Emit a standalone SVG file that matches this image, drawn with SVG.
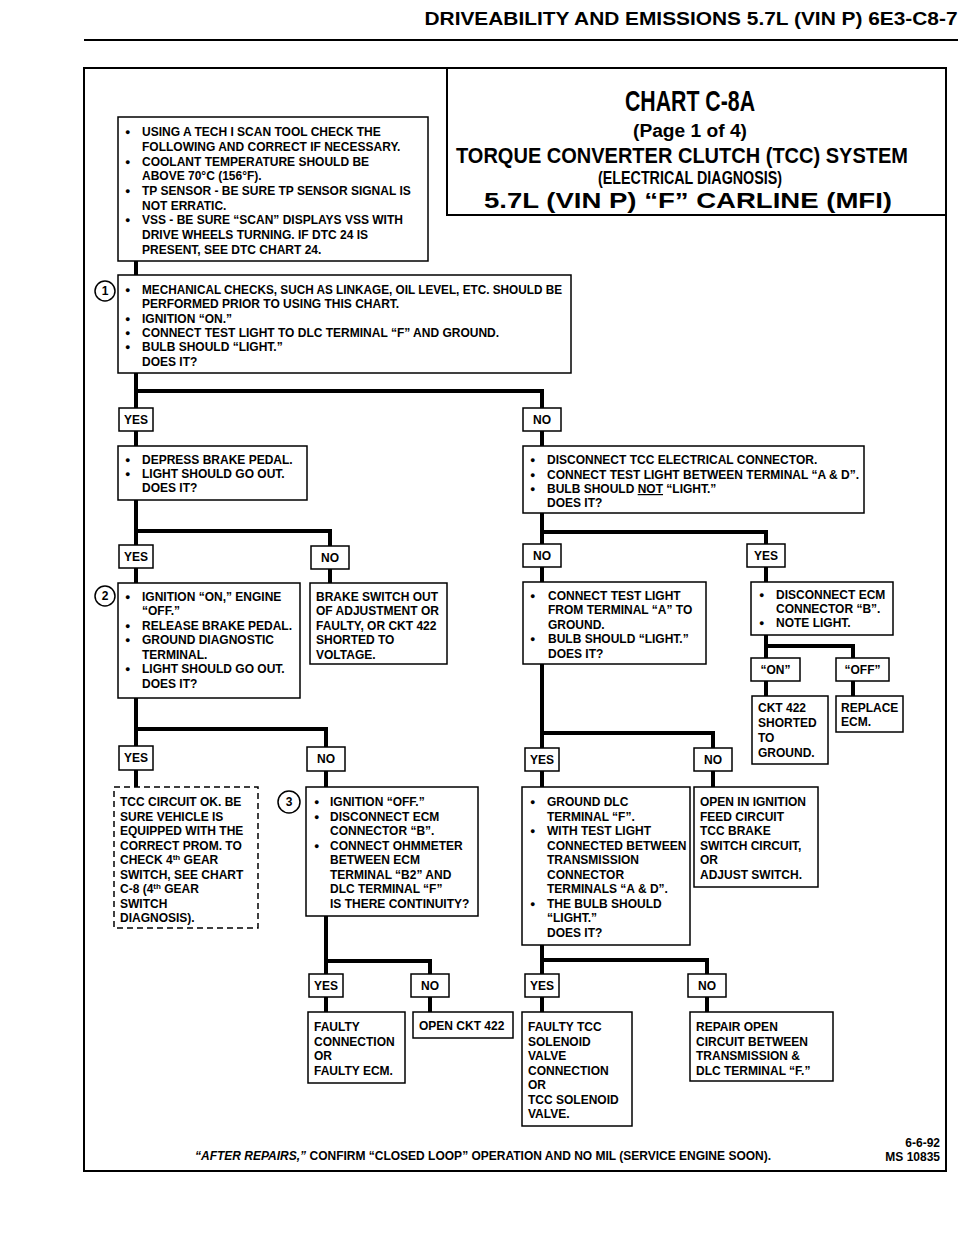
<svg xmlns="http://www.w3.org/2000/svg" width="960" height="1250" viewBox="0 0 960 1250">
<style>
.bg{fill:#fff}
.box{fill:#fff;stroke:#000;stroke-width:1.5}
.dash{fill:#fff;stroke:#000;stroke-width:1.5;stroke-dasharray:6 4}
.con{fill:none;stroke:#000;stroke-width:4}
.frame{fill:none;stroke:#000;stroke-width:2}
.circ{fill:#fff;stroke:#000;stroke-width:1.5}
.t{font-family:"Liberation Sans",Arial,sans-serif;font-weight:bold;font-size:12px;fill:#000}
.b{font-size:9px}
.c{text-anchor:middle}
.ttl{font-family:"Liberation Sans",Arial,sans-serif;font-weight:bold;fill:#000;text-anchor:middle}
</style>
<rect class="bg" x="0" y="0" width="960" height="1250"/>
<g id="header">
<text class="ttl" x="691" y="25" font-size="19" textLength="533" lengthAdjust="spacingAndGlyphs">DRIVEABILITY AND EMISSIONS 5.7L (VIN P) 6E3-C8-7</text>
<line x1="84" y1="40" x2="958" y2="40" stroke="#000" stroke-width="2"/>
</g>
<g id="frame">
<path class="frame" d="M84,68 H946 V1171 H84 Z"/>
</g>
<g id="title">
<path class="frame" d="M447,68 V215 H946" stroke-width="1.5"/>
<text class="ttl" x="690" y="111" font-size="30" textLength="130" lengthAdjust="spacingAndGlyphs">CHART C-8A</text>
<text class="ttl" x="690" y="137" font-size="18" textLength="114" lengthAdjust="spacingAndGlyphs">(Page 1 of 4)</text>
<text class="ttl" x="682" y="163" font-size="22" textLength="452" lengthAdjust="spacingAndGlyphs">TORQUE CONVERTER CLUTCH (TCC) SYSTEM</text>
<text class="ttl" x="690" y="184" font-size="18" textLength="184" lengthAdjust="spacingAndGlyphs">(ELECTRICAL DIAGNOSIS)</text>
<text class="ttl" x="688" y="208" font-size="22" textLength="408" lengthAdjust="spacingAndGlyphs">5.7L  (VIN P)  “F”  CARLINE  (MFI)</text>
</g>
<g id="connectors">
<path class="con" d="M136,261 V275"/>
<path class="con" d="M136,373 V408 M136,391 H542 V408"/>
<path class="con" d="M136,431 V446 M542,431 V446"/>
<path class="con" d="M136,500 V545 M136,531 H330 V546"/>
<path class="con" d="M136,568 V583 M330,569 V583"/>
<path class="con" d="M542,513 V544 M542,532 H766 V544"/>
<path class="con" d="M542,567 V582 M766,567 V582"/>
<path class="con" d="M766,635 V658 M766,646 H853 V658"/>
<path class="con" d="M766,681 V696 M853,681 V696"/>
<path class="con" d="M542,664 V748 M542,733 H713 V748"/>
<path class="con" d="M542,771 V787 M713,771 V787"/>
<path class="con" d="M136,698 V746 M136,729 H326 V747"/>
<path class="con" d="M136,770 V787 M326,771 V787"/>
<path class="con" d="M326,916 V974 M326,961 H430 V974"/>
<path class="con" d="M326,997 V1012 M430,997 V1012"/>
<path class="con" d="M542,945 V974 M542,960 H707 V974"/>
<path class="con" d="M542,997 V1012 M707,997 V1012"/>
</g>
<g id="prelim">
<rect class="box" x="118" y="117" width="310" height="144"/>
<text class="t" x="125" y="136"><tspan class="b" dy="-1">●</tspan><tspan x="142" dy="1">USING A TECH I SCAN TOOL CHECK THE</tspan></text>
<text class="t" x="142" y="151">FOLLOWING AND CORRECT IF NECESSARY.</text>
<text class="t" x="125" y="166"><tspan class="b" dy="-1">●</tspan><tspan x="142" dy="1">COOLANT TEMPERATURE SHOULD BE</tspan></text>
<text class="t" x="142" y="180">ABOVE 70°C (156°F).</text>
<text class="t" x="125" y="195"><tspan class="b" dy="-1">●</tspan><tspan x="142" dy="1">TP SENSOR - BE SURE TP SENSOR SIGNAL IS</tspan></text>
<text class="t" x="142" y="210">NOT ERRATIC.</text>
<text class="t" x="125" y="224"><tspan class="b" dy="-1">●</tspan><tspan x="142" dy="1">VSS - BE SURE “SCAN” DISPLAYS VSS WITH</tspan></text>
<text class="t" x="142" y="239">DRIVE WHEELS TURNING.  IF DTC 24 IS</text>
<text class="t" x="142" y="254">PRESENT,  SEE DTC CHART 24.</text>
</g>
<g id="step1">
<circle class="circ" cx="105" cy="291" r="10"/>
<text class="t c" x="105" y="295">1</text>
<rect class="box" x="118" y="275" width="453" height="98"/>
<text class="t" x="125" y="294"><tspan class="b" dy="-1">●</tspan><tspan x="142" dy="1" textLength="420" lengthAdjust="spacingAndGlyphs">MECHANICAL CHECKS, SUCH AS LINKAGE, OIL LEVEL, ETC. SHOULD BE</tspan></text>
<text class="t" x="142" y="308">PERFORMED PRIOR TO USING THIS CHART.</text>
<text class="t" x="125" y="323"><tspan class="b" dy="-1">●</tspan><tspan x="142" dy="1">IGNITION  “ON.”</tspan></text>
<text class="t" x="125" y="337"><tspan class="b" dy="-1">●</tspan><tspan x="142" dy="1">CONNECT TEST LIGHT TO DLC TERMINAL “F” AND GROUND.</tspan></text>
<text class="t" x="125" y="351"><tspan class="b" dy="-1">●</tspan><tspan x="142" dy="1">BULB SHOULD “LIGHT.”</tspan></text>
<text class="t" x="142" y="366">DOES IT?</text>
</g>
<g id="yes1"><rect class="box" x="119" y="408" width="34" height="23"/><text class="t c" x="136" y="424">YES</text></g>
<g id="no1"><rect class="box" x="523" y="408" width="38" height="23"/><text class="t c" x="542" y="424">NO</text></g>
<g id="brake">
<rect class="box" x="118" y="446" width="189" height="54"/>
<text class="t" x="125" y="464"><tspan class="b" dy="-1">●</tspan><tspan x="142" dy="1">DEPRESS BRAKE PEDAL.</tspan></text>
<text class="t" x="125" y="478"><tspan class="b" dy="-1">●</tspan><tspan x="142" dy="1">LIGHT SHOULD GO OUT.</tspan></text>
<text class="t" x="142" y="492">DOES IT?</text>
</g>
<g id="disconnect-tcc">
<rect class="box" x="523" y="446" width="341" height="67"/>
<text class="t" x="530" y="464"><tspan class="b" dy="-1">●</tspan><tspan x="547" dy="1">DISCONNECT TCC ELECTRICAL CONNECTOR.</tspan></text>
<text class="t" x="530" y="479"><tspan class="b" dy="-1">●</tspan><tspan x="547" dy="1">CONNECT TEST LIGHT BETWEEN TERMINAL “A &amp; D”.</tspan></text>
<text class="t" x="530" y="493"><tspan class="b" dy="-1">●</tspan><tspan x="547" dy="1">BULB SHOULD </tspan><tspan text-decoration="underline">NOT</tspan><tspan> “LIGHT.”</tspan></text>
<text class="t" x="547" y="507">DOES IT?</text>
</g>
<g id="yes2"><rect class="box" x="119" y="545" width="34" height="23"/><text class="t c" x="136" y="561">YES</text></g>
<g id="no2"><rect class="box" x="311" y="546" width="38" height="23"/><text class="t c" x="330" y="562">NO</text></g>
<g id="no3"><rect class="box" x="523" y="544" width="38" height="23"/><text class="t c" x="542" y="560">NO</text></g>
<g id="yes3"><rect class="box" x="747" y="544" width="38" height="23"/><text class="t c" x="766" y="560">YES</text></g>
<g id="step2">
<circle class="circ" cx="105" cy="596" r="10"/>
<text class="t c" x="105" y="600">2</text>
<rect class="box" x="118" y="583" width="182" height="115"/>
<text class="t" x="125" y="601"><tspan class="b" dy="-1">●</tspan><tspan x="142" dy="1">IGNITION “ON,” ENGINE</tspan></text>
<text class="t" x="142" y="615">“OFF.”</text>
<text class="t" x="125" y="630"><tspan class="b" dy="-1">●</tspan><tspan x="142" dy="1">RELEASE BRAKE PEDAL.</tspan></text>
<text class="t" x="125" y="644"><tspan class="b" dy="-1">●</tspan><tspan x="142" dy="1">GROUND DIAGNOSTIC</tspan></text>
<text class="t" x="142" y="659">TERMINAL.</text>
<text class="t" x="125" y="673"><tspan class="b" dy="-1">●</tspan><tspan x="142" dy="1">LIGHT SHOULD GO OUT.</tspan></text>
<text class="t" x="142" y="688">DOES IT?</text>
</g>
<g id="brake-switch">
<rect class="box" x="310" y="583" width="137" height="81"/>
<text class="t" x="316" y="601">BRAKE SWITCH OUT</text>
<text class="t" x="316" y="615">OF ADJUSTMENT OR</text>
<text class="t" x="316" y="630">FAULTY, OR CKT 422</text>
<text class="t" x="316" y="644">SHORTED TO</text>
<text class="t" x="316" y="659">VOLTAGE.</text>
</g>
<g id="terminal-a">
<rect class="box" x="523" y="582" width="183" height="82"/>
<text class="t" x="530" y="600"><tspan class="b" dy="-1">●</tspan><tspan x="548" dy="1">CONNECT TEST LIGHT</tspan></text>
<text class="t" x="548" y="614">FROM TERMINAL “A” TO</text>
<text class="t" x="548" y="629">GROUND.</text>
<text class="t" x="530" y="643"><tspan class="b" dy="-1">●</tspan><tspan x="548" dy="1">BULB SHOULD “LIGHT.”</tspan></text>
<text class="t" x="548" y="658">DOES IT?</text>
</g>
<g id="ecm-b">
<rect class="box" x="751" y="582" width="142" height="53"/>
<text class="t" x="759" y="599"><tspan class="b" dy="-1">●</tspan><tspan x="776" dy="1">DISCONNECT ECM</tspan></text>
<text class="t" x="776" y="613">CONNECTOR “B”.</text>
<text class="t" x="759" y="627"><tspan class="b" dy="-1">●</tspan><tspan x="776" dy="1">NOTE LIGHT.</tspan></text>
</g>
<g id="on"><rect class="box" x="751" y="658" width="49" height="23"/><text class="t c" x="775.5" y="674">“ON”</text></g>
<g id="off"><rect class="box" x="836" y="658" width="53" height="23"/><text class="t c" x="862.5" y="674">“OFF”</text></g>
<g id="ckt422-ground">
<rect class="box" x="752" y="696" width="76" height="68"/>
<text class="t" x="758" y="712">CKT 422</text>
<text class="t" x="758" y="727">SHORTED</text>
<text class="t" x="758" y="742">TO</text>
<text class="t" x="758" y="757">GROUND.</text>
</g>
<g id="replace-ecm">
<rect class="box" x="836" y="696" width="67" height="36"/>
<text class="t" x="841" y="712">REPLACE</text>
<text class="t" x="841" y="726">ECM.</text>
</g>
<g id="yes4"><rect class="box" x="525" y="748" width="34" height="23"/><text class="t c" x="542" y="764">YES</text></g>
<g id="no4"><rect class="box" x="694" y="748" width="38" height="23"/><text class="t c" x="713" y="764">NO</text></g>
<g id="yes5"><rect class="box" x="119" y="746" width="34" height="24"/><text class="t c" x="136" y="762">YES</text></g>
<g id="no5"><rect class="box" x="307" y="747" width="38" height="24"/><text class="t c" x="326" y="763">NO</text></g>
<g id="tcc-ok">
<rect class="dash" x="114" y="787" width="144" height="141"/>
<text class="t" x="120" y="806">TCC CIRCUIT OK.  BE</text>
<text class="t" x="120" y="821">SURE VEHICLE IS</text>
<text class="t" x="120" y="835">EQUIPPED WITH THE</text>
<text class="t" x="120" y="850">CORRECT PROM.  TO</text>
<text class="t" x="120" y="864">CHECK 4<tspan font-size="8" dy="-4">th</tspan><tspan dy="4"> GEAR</tspan></text>
<text class="t" x="120" y="879">SWITCH, SEE CHART</text>
<text class="t" x="120" y="893">C-8  (4<tspan font-size="8" dy="-4">th</tspan><tspan dy="4"> GEAR</tspan></text>
<text class="t" x="120" y="908">SWITCH</text>
<text class="t" x="120" y="922">DIAGNOSIS).</text>
</g>
<g id="step3">
<circle class="circ" cx="289" cy="802" r="11"/>
<text class="t c" x="289" y="806">3</text>
<rect class="box" x="306" y="787" width="172" height="129"/>
<text class="t" x="314" y="806"><tspan class="b" dy="-1">●</tspan><tspan x="330" dy="1">IGNITION “OFF.”</tspan></text>
<text class="t" x="314" y="821"><tspan class="b" dy="-1">●</tspan><tspan x="330" dy="1">DISCONNECT ECM</tspan></text>
<text class="t" x="330" y="835">CONNECTOR “B”.</text>
<text class="t" x="314" y="850"><tspan class="b" dy="-1">●</tspan><tspan x="330" dy="1">CONNECT OHMMETER</tspan></text>
<text class="t" x="330" y="864">BETWEEN ECM</text>
<text class="t" x="330" y="879">TERMINAL “B2” AND</text>
<text class="t" x="330" y="893">DLC TERMINAL “F”</text>
<text class="t" x="330" y="908">IS THERE CONTINUITY?</text>
</g>
<g id="ground-dlc">
<rect class="box" x="522" y="787" width="168" height="158"/>
<text class="t" x="530" y="806"><tspan class="b" dy="-1">●</tspan><tspan x="547" dy="1">GROUND DLC</tspan></text>
<text class="t" x="547" y="821">TERMINAL “F”.</text>
<text class="t" x="530" y="835"><tspan class="b" dy="-1">●</tspan><tspan x="547" dy="1">WITH TEST LIGHT</tspan></text>
<text class="t" x="547" y="850">CONNECTED BETWEEN</text>
<text class="t" x="547" y="864">TRANSMISSION</text>
<text class="t" x="547" y="879">CONNECTOR</text>
<text class="t" x="547" y="893">TERMINALS “A &amp; D”.</text>
<text class="t" x="530" y="908"><tspan class="b" dy="-1">●</tspan><tspan x="547" dy="1">THE BULB SHOULD</tspan></text>
<text class="t" x="547" y="922">“LIGHT.”</text>
<text class="t" x="547" y="937">DOES IT?</text>
</g>
<g id="open-ignition">
<rect class="box" x="694" y="787" width="124" height="100"/>
<text class="t" x="700" y="806">OPEN IN IGNITION</text>
<text class="t" x="700" y="821">FEED CIRCUIT</text>
<text class="t" x="700" y="835">TCC BRAKE</text>
<text class="t" x="700" y="850">SWITCH CIRCUIT,</text>
<text class="t" x="700" y="864">OR</text>
<text class="t" x="700" y="879">ADJUST SWITCH.</text>
</g>
<g id="yes7"><rect class="box" x="309" y="974" width="34" height="23"/><text class="t c" x="326" y="990">YES</text></g>
<g id="no7"><rect class="box" x="411" y="974" width="38" height="23"/><text class="t c" x="430" y="990">NO</text></g>
<g id="yes6"><rect class="box" x="525" y="974" width="34" height="23"/><text class="t c" x="542" y="990">YES</text></g>
<g id="no6"><rect class="box" x="688" y="974" width="38" height="23"/><text class="t c" x="707" y="990">NO</text></g>
<g id="faulty-connection">
<rect class="box" x="308" y="1012" width="97" height="71"/>
<text class="t" x="314" y="1031">FAULTY</text>
<text class="t" x="314" y="1046">CONNECTION</text>
<text class="t" x="314" y="1060">OR</text>
<text class="t" x="314" y="1075">FAULTY ECM.</text>
</g>
<g id="open-ckt422">
<rect class="box" x="413" y="1012" width="100" height="26"/>
<text class="t" x="419" y="1030">OPEN CKT 422</text>
</g>
<g id="faulty-tcc">
<rect class="box" x="522" y="1012" width="110" height="114"/>
<text class="t" x="528" y="1031">FAULTY TCC</text>
<text class="t" x="528" y="1046">SOLENOID</text>
<text class="t" x="528" y="1060">VALVE</text>
<text class="t" x="528" y="1075">CONNECTION</text>
<text class="t" x="528" y="1089">OR</text>
<text class="t" x="528" y="1104">TCC SOLENOID</text>
<text class="t" x="528" y="1118">VALVE.</text>
</g>
<g id="repair-open">
<rect class="box" x="690" y="1012" width="143" height="69"/>
<text class="t" x="696" y="1031">REPAIR OPEN</text>
<text class="t" x="696" y="1046">CIRCUIT BETWEEN</text>
<text class="t" x="696" y="1060">TRANSMISSION &amp;</text>
<text class="t" x="696" y="1075">DLC TERMINAL “F.”</text>
</g>
<g id="footer">
<text class="t" x="195" y="1160" font-size="11.5"><tspan font-style="italic">“AFTER REPAIRS,”</tspan> CONFIRM “CLOSED LOOP” OPERATION AND NO MIL (SERVICE ENGINE SOON).</text>
<text class="t" x="940" y="1147" text-anchor="end" font-size="11.5">6-6-92</text>
<text class="t" x="940" y="1161" text-anchor="end" font-size="11.5">MS 10835</text>
</g>
</svg>
